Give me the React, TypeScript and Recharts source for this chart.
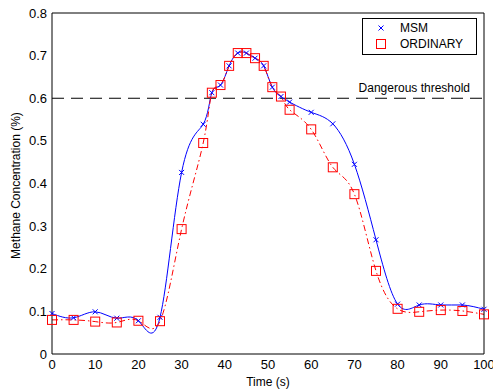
import { LineChart, Line, XAxis, YAxis, ReferenceLine, Legend, Label } from 'recharts';

// sample times (s) where markers are drawn
const times = [0, 5, 10, 15, 20, 25, 30, 35, 37, 39, 41, 43, 45, 47, 49, 51, 53, 55, 60, 65, 70, 75, 80, 85, 90, 95, 100];
const msmValues = [
    0.095, 0.085, 0.099, 0.084, 0.078, 0.086, 0.426, 0.539, 0.613, 0.631, 0.676, 0.706, 0.706, 0.694,
    0.676, 0.626, 0.604, 0.591, 0.567, 0.54, 0.445, 0.268, 0.117, 0.115, 0.115, 0.115, 0.105,
];
const ordinaryValues = [
    0.08, 0.08, 0.076, 0.074, 0.078, 0.077, 0.293, 0.495, 0.613, 0.631, 0.676, 0.706, 0.706, 0.694,
    0.676, 0.626, 0.604, 0.573, 0.527, 0.438, 0.375, 0.195, 0.106, 0.099, 0.103, 0.101, 0.093,
];
const xTicks = [0, 10, 20, 30, 40, 50, 60, 70, 80, 90, 100];
const yTicks = [0, 0.1, 0.2, 0.3, 0.4, 0.5, 0.6, 0.7, 0.8];
const THRESHOLD = 0.6;

const chartData = times.map((t, i) => ({ time: t, msm: msmValues[i], ordinary: ordinaryValues[i] }));

const FONT = '"Liberation Sans", Arial, Helvetica, sans-serif';
const BLUE = '#0000ff';
const RED = '#ff0000';

function crossPath(cx: number, cy: number, s: number) {
    return `M${cx - s},${cy - s}L${cx + s},${cy + s}M${cx - s},${cy + s}L${cx + s},${cy - s}`;
}

function CrossDot(props: any) {
    const { cx, cy, index } = props;
    if (cx == null || cy == null) return null;
    return <path key={`x-${index}`} d={crossPath(cx, cy, 2.5)} stroke={BLUE} strokeWidth={1} fill="none" />;
}

function SquareDot(props: any) {
    const { cx, cy, index } = props;
    if (cx == null || cy == null) return null;
    return <rect key={`sq-${index}`} x={cx - 4.5} y={cy - 4.5} width={9} height={9} stroke={RED} strokeWidth={1} fill="none" />;
}

function LegendBox(props: any) {
    const items = props.payload || [];
    return (
        <svg width={115} height={37} style={{ display: 'block' }}>
            <rect x={0.5} y={0.5} width={114} height={36} fill="#fff" stroke="#000" />
            {items.map((item: any, i: number) => {
                const cy = 10 + i * 16;
                return (
                    <g key={item.dataKey}>
                        {item.dataKey === 'msm' ? (
                            <path d={crossPath(19, cy, 2.5)} stroke={BLUE} fill="none" />
                        ) : (
                            <rect x={14.5} y={cy - 4.5} width={9} height={9} stroke={RED} fill="none" />
                        )}
                        <text x={38} y={cy} dominantBaseline="central" fontSize={12} fontFamily={FONT} fill="#000">
                            {item.value}
                        </text>
                    </g>
                );
            })}
        </svg>
    );
}

function YTitle(props: any) {
    const vb = props.viewBox || { y: 13, height: 341 };
    const cx = 16;
    const cy = vb.y + vb.height / 2 + 2;
    return (
        <text
            x={cx}
            y={cy}
            transform={`rotate(-90 ${cx} ${cy})`}
            textAnchor="middle"
            dominantBaseline="central"
            fontSize={12}
            fontFamily={FONT}
            fill="#000"
        >
            Methane Concentration (%)
        </text>
    );
}

function ThresholdLabel(props: any) {
    const vb = props.viewBox || { x: 52, y: 98, width: 432 };
    return (
        <text x={vb.x + vb.width - 14} y={vb.y - 6} textAnchor="end" fontSize={12} fontFamily={FONT} fill="#000">
            Dangerous threshold
        </text>
    );
}

const tickStyle = { fill: '#000', fontSize: 13, fontFamily: FONT };

export default function App() {
    return (
        <div style={{ position: 'absolute', left: 0, top: 0, width: 493, height: 389, background: '#fff' }}>
            <LineChart width={493} height={389} data={chartData} margin={{ top: 13, right: 9, bottom: 0, left: 0 }}>
                <XAxis
                    xAxisId="main"
                    dataKey="time"
                    type="number"
                    domain={[0, 100]}
                    ticks={xTicks}
                    interval={0}
                    tickLine={false}
                    tickSize={0}
                    tickMargin={6}
                    height={35}
                    axisLine={{ stroke: '#000' }}
                    tick={tickStyle}
                >
                    <Label value="Time (s)" position="insideBottom" offset={3} fontSize={12} fontFamily={FONT} fill="#000" />
                </XAxis>
                <XAxis
                    xAxisId="bottomTicks"
                    type="number"
                    domain={[0, 100]}
                    ticks={xTicks}
                    interval={0}
                    orientation="bottom"
                    mirror
                    tick={false}
                    tickSize={5}
                    tickLine={{ stroke: '#000' }}
                    axisLine={false}
                />
                <XAxis
                    xAxisId="top"
                    type="number"
                    domain={[0, 100]}
                    ticks={xTicks}
                    interval={0}
                    orientation="top"
                    mirror
                    tick={false}
                    tickSize={5}
                    tickLine={{ stroke: '#000' }}
                    axisLine={{ stroke: '#000' }}
                />
                <YAxis
                    yAxisId="main"
                    type="number"
                    domain={[0, 0.8]}
                    ticks={yTicks}
                    interval={0}
                    width={52}
                    tickLine={false}
                    tickSize={0}
                    tickMargin={5}
                    axisLine={{ stroke: '#000' }}
                    tick={tickStyle}
                    tickFormatter={(v: number) => (v === 0 ? '0' : v.toFixed(1))}
                >
                    <Label content={YTitle} />
                </YAxis>
                <YAxis
                    yAxisId="leftTicks"
                    type="number"
                    domain={[0, 0.8]}
                    ticks={yTicks}
                    interval={0}
                    orientation="left"
                    mirror
                    tick={false}
                    tickSize={5}
                    tickLine={{ stroke: '#000' }}
                    axisLine={false}
                />
                <YAxis
                    yAxisId="right"
                    type="number"
                    domain={[0, 0.8]}
                    ticks={yTicks}
                    interval={0}
                    orientation="right"
                    mirror
                    tick={false}
                    tickSize={5}
                    tickLine={{ stroke: '#000' }}
                    axisLine={{ stroke: '#000' }}
                />
                <ReferenceLine
                    xAxisId="main"
                    yAxisId="main"
                    y={THRESHOLD}
                    stroke="#000"
                    strokeWidth={1}
                    strokeDasharray="12 7"
                    label={ThresholdLabel}
                />
                <Line
                    xAxisId="main"
                    yAxisId="main"
                    type="natural"
                    dataKey="msm"
                    name="MSM"
                    stroke={BLUE}
                    strokeWidth={1}
                    dot={CrossDot}
                    activeDot={false}
                    isAnimationActive={false}
                />
                <Line
                    xAxisId="main"
                    yAxisId="main"
                    type="natural"
                    dataKey="ordinary"
                    name="ORDINARY"
                    stroke={RED}
                    strokeWidth={1}
                    strokeDasharray="6 3 1.5 3"
                    dot={SquareDot}
                    activeDot={false}
                    isAnimationActive={false}
                />
                <Legend
                    layout="vertical"
                    align="center"
                    verticalAlign="middle"
                    content={LegendBox}
                    wrapperStyle={{ top: 18, left: 362, width: 115, height: 37 }}
                />
            </LineChart>
        </div>
    );
}
